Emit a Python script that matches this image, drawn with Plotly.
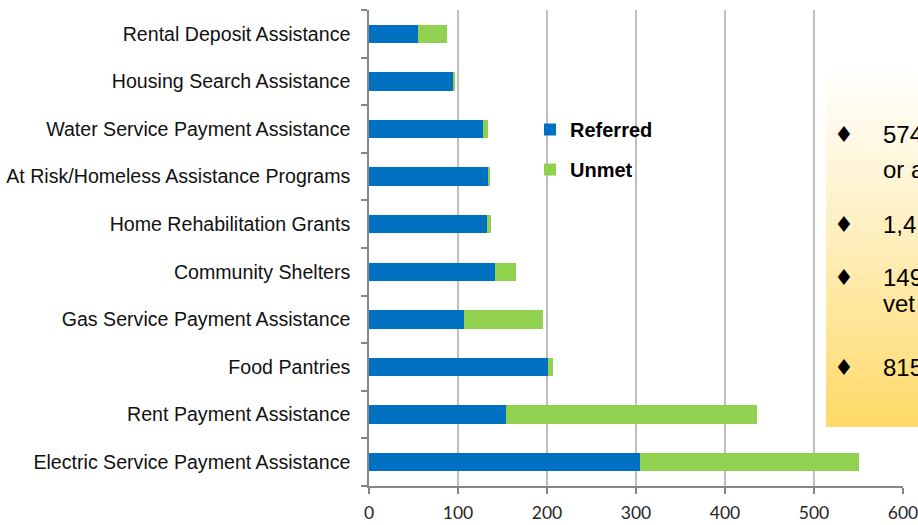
import plotly.graph_objects as go

categories = [
    "Electric Service Payment Assistance",
    "Rent Payment Assistance",
    "Food Pantries",
    "Gas Service Payment Assistance",
    "Community Shelters",
    "Home Rehabilitation Grants",
    "At Risk/Homeless Assistance Programs",
    "Water Service Payment Assistance",
    "Housing Search Assistance",
    "Rental Deposit Assistance",
]
referred = [304, 154, 201, 107, 142, 133, 134, 128, 95, 55]
unmet = [246, 282, 6, 89, 23, 4, 2, 6, 1, 33]

x_ticks = [0, 100, 200, 300, 400, 500, 600]

# text box fragments (clipped at the right edge in the original)
box_lines = [("\u2666", "574"), ("", "or a"), ("\u2666", "1,4"), ("\u2666", "149"), ("", "vet"), ("\u2666", "815")]

W, H = 918, 525
L, R, T, B = 369, 15, 10, 39
PW, PH = W - L - R, H - T - B

def px(xp):
    return (xp - L) / PW

def py(yp):
    return (H - B - yp) / PH

fig = go.Figure()
fig.add_trace(go.Bar(y=categories, x=referred, orientation="h", name="Referred",
                     marker=dict(color="#0070C0", line=dict(width=0)), legendgroup="a"))
fig.add_trace(go.Bar(y=categories, x=unmet, orientation="h", name="Unmet",
                     marker=dict(color="#92D050", line=dict(width=0)), legendgroup="b"))

# gradient text box
shapes = []
top, bot = 73, 427
n = 70
c0 = (255, 254, 250)
c1 = (255, 217, 102)
for i in range(n):
    y0 = top + (bot - top) * i / n
    y1 = top + (bot - top) * (i + 1) / n + 0.6
    t = (i + 0.5) / n
    t = t ** 1.15
    col = tuple(round(c0[k] + (c1[k] - c0[k]) * t) for k in range(3))
    shapes.append(dict(type="rect", xref="paper", yref="paper", x0=px(826), x1=px(940),
                       y0=py(min(y1, bot)), y1=py(y0), fillcolor="rgb(%d,%d,%d)" % col,
                       line=dict(width=0), layer="above"))

annotations = []
baselines = [143, 178, 233, 286, 312, 376]
for (bullet, txt), base in zip(box_lines, baselines):
    yc = base - 8.5
    if bullet:
        annotations.append(dict(xref="paper", yref="paper", x=px(844), y=py(yc), text=bullet,
                                showarrow=False, xanchor="center", yanchor="middle",
                                font=dict(family="DejaVu Sans, Arial", size=22, color="#000000")))
    annotations.append(dict(xref="paper", yref="paper", x=px(881), y=py(yc), text=txt,
                            showarrow=False, xanchor="left", yanchor="middle",
                            font=dict(family="Arial, Liberation Sans", size=24, color="#000000")))

fig.update_layout(
    width=W, height=H,
    margin=dict(l=L, r=R, t=T, b=B, pad=0, autoexpand=False),
    paper_bgcolor="white", plot_bgcolor="white",
    barmode="stack", bargap=0.61,
    showlegend=True,
    legend=dict(x=px(530), y=py(110), xanchor="left", yanchor="top",
                traceorder="grouped", tracegroupgap=11,
                font=dict(family="Arial, Liberation Sans", size=20, color="#000000", weight="bold"),
                bgcolor="rgba(0,0,0,0)"),
    shapes=shapes,
    annotations=annotations,
    xaxis=dict(range=[0, 600], tickvals=x_ticks, ticktext=[str(v) for v in x_ticks],
               showgrid=True, gridcolor="#BFBFBF", gridwidth=1.5,
               showline=True, linecolor="#868686", linewidth=1.5,
               ticks="outside", ticklen=6, tickcolor="#868686", tickwidth=1.5,
               tickfont=dict(family="Lato, Open Sans", size=17.5, color="#262626"),
               ticklabelstandoff=4, ticklabeloverflow="allow",
               zeroline=False, fixedrange=True, automargin=False),
    yaxis=dict(categoryorder="array", categoryarray=categories,
               showline=True, linecolor="#868686", linewidth=1.5,
               ticks="outside", ticklen=6, tickcolor="#868686", tickwidth=1.5,
               tickson="boundaries", showgrid=False,
               tickfont=dict(family="Arial, Liberation Sans", size=19.6, color="#111111"),
               ticklabelstandoff=13, fixedrange=True, automargin=False),
)

post = (
    "var d=document.getElementById('{plot_id}');"
    "d.style.position='fixed';d.style.top='0px';d.style.left='0px';"
    "document.documentElement.style.overflow='hidden';"
    "document.body.style.margin='0';document.body.style.overflow='hidden';"
)
fig.write_html("out.html", config={"displayModeBar": False}, post_script=post)
